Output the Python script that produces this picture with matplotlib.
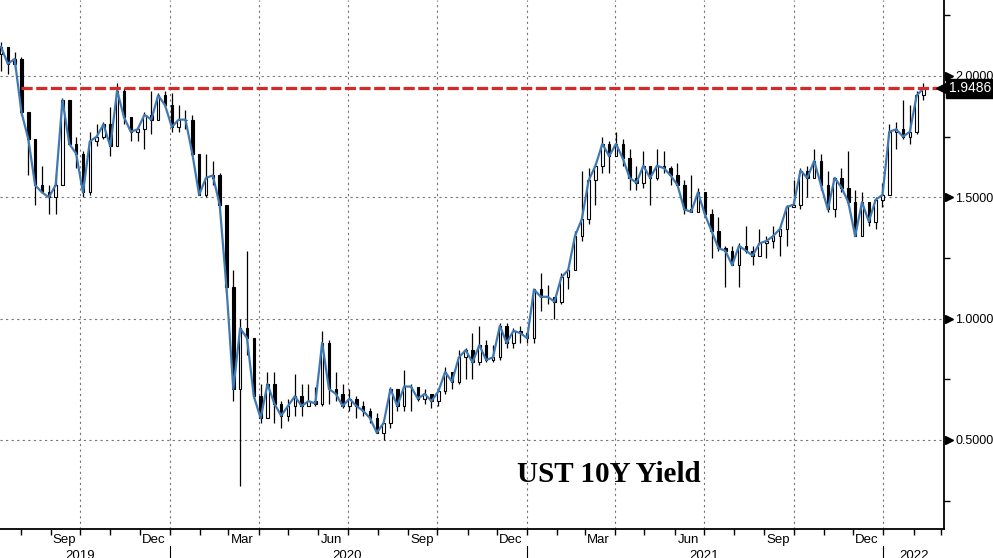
import matplotlib.pyplot as plt
import matplotlib.dates as mdates
import pandas as pd

# weekly data (Fridays), UST 10Y yield
start_week = "2019-07-12"
lows = [2.02, 2.01, 2.03, 1.84, 1.59, 1.47, 1.52, 1.43, 1.43, 1.58, 1.72, 1.62, 1.50, 1.51, 1.71, 1.74,
        1.67, 1.76, 1.80, 1.73, 1.73, 1.70, 1.76, 1.82, 1.87,
        1.77, 1.77, 1.78, 1.67, 1.51, 1.50, 1.55, 1.46, 1.11, 0.66, 0.31, 0.85, 0.67, 0.57, 0.59, 0.57,
        0.55, 0.58, 0.60, 0.60, 0.64, 0.64, 0.64, 0.65, 0.66, 0.63, 0.62, 0.59, 0.60, 0.57, 0.53, 0.50,
        0.55, 0.62, 0.62, 0.62, 0.66, 0.65, 0.63, 0.64, 0.69, 0.71, 0.73, 0.75, 0.75, 0.81, 0.82, 0.82,
        0.83, 0.88, 0.88, 0.90,
        0.90, 0.90, 1.03, 1.06, 1.00, 1.06, 1.12, 1.20, 1.32, 1.39, 1.47, 1.60, 1.60, 1.67, 1.63, 1.53,
        1.53, 1.54, 1.47, 1.57, 1.60, 1.55, 1.56, 1.43, 1.44, 1.44, 1.42, 1.25, 1.28, 1.13, 1.22, 1.13,
        1.27, 1.22, 1.26, 1.25, 1.29, 1.26, 1.30, 1.46, 1.45, 1.50, 1.58, 1.53, 1.44, 1.42, 1.52, 1.47,
        1.34, 1.35, 1.38, 1.37, 1.46,
        1.51, 1.70, 1.74, 1.72, 1.76, 1.90]
highs = [2.14, 2.12, 2.10, 2.08, 1.78, 1.74, 1.63, 1.55, 1.60, 1.91, 1.88, 1.75, 1.69, 1.77, 1.80, 1.81,
         1.87, 1.97, 1.95, 1.83, 1.79, 1.85, 1.94, 1.93, 1.94,
         1.93, 1.88, 1.86, 1.84, 1.68, 1.68, 1.65, 1.60, 1.47, 1.20, 1.00, 1.28, 0.91, 0.73, 0.78, 0.78,
         0.66, 0.67, 0.77, 0.73, 0.73, 0.72, 0.95, 0.91, 0.78, 0.73, 0.71, 0.68, 0.66, 0.63, 0.61, 0.57,
         0.72, 0.71, 0.79, 0.73, 0.72, 0.71, 0.69, 0.70, 0.80, 0.78, 0.87, 0.88, 0.94, 0.97, 0.91, 0.89,
         0.98, 0.98, 0.96, 0.97,
         0.95, 1.12, 1.19, 1.14, 1.09, 1.19, 1.21, 1.36, 1.61, 1.62, 1.64, 1.75, 1.73, 1.77, 1.74, 1.70,
         1.63, 1.69, 1.62, 1.70, 1.69, 1.63, 1.64, 1.57, 1.59, 1.54, 1.52, 1.45, 1.42, 1.30, 1.30, 1.31,
         1.38, 1.30, 1.37, 1.34, 1.38, 1.38, 1.47, 1.57, 1.62, 1.63, 1.70, 1.68, 1.61, 1.58, 1.62, 1.69,
         1.53, 1.52, 1.48, 1.50, 1.56,
         1.80, 1.81, 1.90, 1.88, 1.94, 1.97]
closes = [2.12, 2.05, 2.07, 1.85, 1.74, 1.55, 1.52, 1.50, 1.55, 1.90, 1.72, 1.68, 1.52, 1.73, 1.75, 1.80,
          1.71, 1.94, 1.83, 1.77, 1.78, 1.84, 1.82, 1.92, 1.88,
          1.79, 1.82, 1.82, 1.68, 1.51, 1.58, 1.59, 1.47, 1.13, 0.71, 0.96, 0.92, 0.68, 0.59, 0.73, 0.65,
          0.60, 0.64, 0.68, 0.64, 0.66, 0.65, 0.90, 0.71, 0.69, 0.64, 0.67, 0.64, 0.62, 0.59, 0.53, 0.57,
          0.71, 0.64, 0.72, 0.72, 0.67, 0.69, 0.66, 0.70, 0.78, 0.74, 0.84, 0.87, 0.82, 0.89, 0.83, 0.84,
          0.97, 0.90, 0.95, 0.94,
          0.92, 1.12, 1.09, 1.09, 1.07, 1.17, 1.20, 1.34, 1.41, 1.57, 1.63, 1.72, 1.67, 1.72, 1.66, 1.58,
          1.56, 1.63, 1.58, 1.63, 1.62, 1.59, 1.55, 1.45, 1.44, 1.52, 1.43, 1.36, 1.29, 1.28, 1.22, 1.30,
          1.28, 1.26, 1.31, 1.32, 1.34, 1.37, 1.46, 1.47, 1.61, 1.58, 1.65, 1.55, 1.45, 1.58, 1.54, 1.48,
          1.34, 1.48, 1.40, 1.49, 1.51,
          1.77, 1.78, 1.75, 1.77, 1.92, 1.9486]
weeks = pd.date_range(start_week, periods=len(closes), freq="W-FRI")
opens = [2.09] + closes[:-1]

last_value = 1.9486
line_start = "2019-08-02"

y_ticks = [0.5, 1.0, 1.5, 2.0]
y_minor = [0.25, 0.75, 1.25, 1.75, 2.25]
quarter_starts = pd.to_datetime(["2019-10-01", "2020-01-01", "2020-04-01", "2020-07-01", "2020-10-01",
                                 "2021-01-01", "2021-04-01", "2021-07-01", "2021-10-01", "2022-01-01"])
month_labels = ["Sep", "Dec", "Mar", "Jun", "Sep", "Dec", "Mar", "Jun", "Sep", "Dec"]
month_pos = pd.to_datetime(["2019-09-15", "2019-12-15", "2020-03-15", "2020-06-15", "2020-09-15",
                            "2020-12-15", "2021-03-15", "2021-06-15", "2021-09-15", "2021-12-15"])
year_labels = ["2019", "2020", "2021", "2022"]
year_pos = pd.to_datetime(["2019-10-01", "2020-07-01", "2021-07-01", "2022-02-01"])
year_breaks = pd.to_datetime(["2020-01-01", "2021-01-01", "2022-01-01"])

x_left = pd.Timestamp("2019-07-11")
x_right = pd.Timestamp("2022-03-04")

FONT = ["Liberation Sans", "DejaVu Sans"]

fig = plt.figure(figsize=(9.93, 5.58), dpi=100)
ax = fig.add_axes([0.0, 1 - 529 / 558, 944 / 993, 529 / 558])
ax.set_xlim(x_left, x_right)
ax.set_ylim(0.133, 2.313)

# candles
for d, o, h, l, c in zip(weeks, opens, highs, lows, closes):
    ax.vlines(d, l, h, color="black", lw=0.9, zorder=3)
    face = "white" if c >= o else "black"
    ax.bar(d, c - o, bottom=o, width=2.6, facecolor=face, edgecolor="black", lw=0.8, zorder=4)
ax.plot(weeks, closes, color="#3f79b4", lw=1.6, zorder=5)

# resistance line
ax.hlines(last_value, pd.Timestamp(line_start), x_right, color="#d42a2a", lw=2.3,
          linestyles=(0, (3.5, 1.1)), zorder=6)

# grid
for q in quarter_starts:
    ax.axvline(q, color="#777777", lw=0.8, ls=(0, (2, 3)), zorder=1)
for yv in y_ticks:
    ax.axhline(yv, color="#777777", lw=0.8, ls=(0, (2, 3)), zorder=1)

# spines
for s in ["left", "top"]:
    ax.spines[s].set_visible(False)
ax.spines["right"].set_linewidth(1.3)
ax.spines["bottom"].set_linewidth(1.3)

# y axis on the right
ax.yaxis.tick_right()
ax.set_yticks(y_ticks)
ax.set_yticklabels(["%.4f" % v for v in y_ticks])
ax.set_yticks(y_minor, minor=True)
ax.tick_params(axis="y", which="major", length=0, pad=8, labelsize=9)
ax.tick_params(axis="y", which="minor", length=4, width=1, direction="out")
for lab in ax.get_yticklabels():
    lab.set_family(FONT)
trans_y = ax.get_yaxis_transform()
ax.plot([1.005] * len(y_ticks), y_ticks, ls="none", marker=">", ms=6, color="black",
        transform=trans_y, clip_on=False)

# x axis
ax.xaxis.set_major_locator(mdates.MonthLocator())
ax.xaxis.set_major_formatter(plt.NullFormatter())
ax.tick_params(axis="x", which="major", length=4, width=1, direction="out")
trans_x = ax.get_xaxis_transform()
for p, t in zip(month_pos, month_labels):
    ax.text(p, -11 / 529, t, transform=trans_x, ha="center", va="center", fontsize=9.5,
            family=FONT, clip_on=False)
for p, t in zip(year_pos, year_labels):
    ax.text(p, -27 / 529, t, transform=trans_x, ha="center", va="center", fontsize=9.5,
            family=FONT, clip_on=False)
for b in year_breaks:
    ax.plot([b, b], [-17 / 529, -31 / 529], color="black", lw=0.8, transform=trans_x, clip_on=False)

# last value tag
ax.plot([0.999], [last_value], marker="<", ms=10, color="black", transform=trans_y,
        clip_on=False, zorder=9)
ax.text(1.005, last_value, "%.4f" % last_value, transform=trans_y, ha="left", va="center",
        color="white", fontsize=10, family=FONT,
        bbox=dict(boxstyle="square,pad=0.18", facecolor="black", edgecolor="black"), zorder=10)

ax.text(0.645, 0.103, "UST 10Y Yield", transform=ax.transAxes, ha="center", va="center",
        fontsize=21, fontweight="bold", family="Liberation Serif")

fig.savefig("out.png", dpi=100)
